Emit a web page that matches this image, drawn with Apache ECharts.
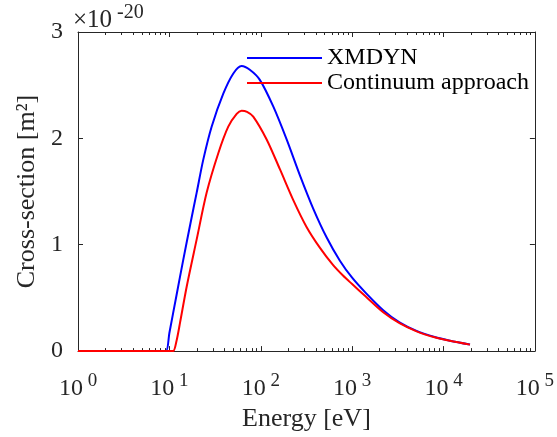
<!DOCTYPE html>
<html>
<head>
<meta charset="utf-8">
<script src="https://cdn.jsdelivr.net/npm/echarts@6/dist/echarts.min.js"></script>
<style>html,body{margin:0;padding:0;background:#fff}#c{width:557px;height:437px}</style>
</head>
<body>
<div id="c"></div>
<script>
// Energy in eV, cross-section in units of 1e-20 m^2
const xmdynEnergy = [1, 8.0, 9.2, 10.0, 12.0, 14.2, 17.0, 19.9, 23.5, 29.0, 38.9, 50.1, 61.7, 75.9, 97.7, 137, 192, 269, 375, 525, 735, 1000, 1400, 2188, 3300, 5070, 8000, 11750, 19500];
const xmdynValue  = [0, 0, 0, 0.17, 0.53, 0.86, 1.20, 1.49, 1.80, 2.11, 2.42, 2.61, 2.68, 2.645, 2.55, 2.30, 1.99, 1.65, 1.34, 1.07, 0.85, 0.69, 0.55, 0.385, 0.27, 0.19, 0.132, 0.098, 0.062];
const contEnergy  = [1, 10.0, 11.0, 12.0, 13.1, 15.5, 19.9, 25.6, 34.3, 44.1, 54.5, 61.7, 70.8, 82.8, 116, 162, 227, 316, 445, 617, 794, 1000, 1400, 2188, 3300, 5070, 8000, 11750, 19500];
const contValue   = [0, 0, 0, 0.10, 0.27, 0.61, 1.05, 1.49, 1.86, 2.11, 2.23, 2.26, 2.25, 2.205, 1.99, 1.71, 1.42, 1.17, 0.97, 0.81, 0.71, 0.63, 0.515, 0.365, 0.262, 0.186, 0.13, 0.097, 0.061];
const seriesNames = ['XMDYN', 'Continuum approach'];
const xMajorTicks = [1, 10, 100, 1000, 10000, 100000];
const xTickExponents = ['0', '1', '2', '3', '4', '5'];
const xMinorTicks = [2,3,4,5,6,7,8,9, 20,30,40,50,60,70,80,90, 200,300,400,500,600,700,800,900,
  2000,3000,4000,5000,6000,7000,8000,9000, 20000,30000,40000,50000,60000,70000,80000,90000];
const yTicks = [0, 1, 2, 3];
const scaleExponent = '-20';

const FONT = 'Liberation Serif';
const AX = '#262626';
const pair = (xs, ys) => xs.map((x, i) => [x, ys[i]]);

function xAxisDef(pos, ticks, len, withLabels, withLine) {
  return {
    type: 'log', logBase: 10, min: 1, max: 100000, position: pos,
    axisLine: { show: withLine, lineStyle: { color: AX, width: 1 } },
    axisTick: { show: true, inside: true, length: len, customValues: ticks, lineStyle: { color: AX } },
    axisLabel: withLabels ? {
      show: true, customValues: xMajorTicks, margin: 20,
      formatter: v => '{b|10}{s| ' + xTickExponents[xMajorTicks.indexOf(v)] + '}',
      rich: {
        b: { fontFamily: FONT, fontSize: 24, color: '#262626' },
        s: { fontFamily: FONT, fontSize: 19, color: '#262626', padding: [0, 0, 17, 0] }
      }
    } : { show: false },
    splitLine: { show: false }
  };
}

const chart = echarts.init(document.getElementById('c'), null, { renderer: 'canvas' });
chart.setOption({
  animation: false,
  backgroundColor: '#fff',
  title: {
    text: '{a|×10}{b| ' + scaleExponent + '}',
    left: 68, top: -2,
    textStyle: { fontWeight: 'normal', rich: {
      a: { fontFamily: FONT, fontSize: 25, fontWeight: 'normal', color: '#262626' },
      b: { fontFamily: FONT, fontSize: 20, fontWeight: 'normal', color: '#262626', padding: [0, 0, 15, 0] }
    } }
  },
  grid: { left: 78, right: 22, top: 32, bottom: 85, containLabel: false },
  legend: {
    data: seriesNames, orient: 'vertical', left: 247, top: 46, padding: 0,
    icon: 'rect', itemWidth: 75, itemHeight: 2, itemGap: 1,
    textStyle: { fontFamily: FONT, fontSize: 24, color: '#000', lineHeight: 24 }
  },
  xAxis: [
    Object.assign(xAxisDef('bottom', xMajorTicks, 5, true, true), {
      name: 'Energy [eV]', nameLocation: 'middle', nameGap: 49,
      nameTextStyle: { fontFamily: FONT, fontSize: 26, color: '#262626' }
    }),
    xAxisDef('bottom', xMinorTicks, 3, false, false),
    xAxisDef('top', xMajorTicks, 5, false, true),
    xAxisDef('top', xMinorTicks, 3, false, false)
  ],
  yAxis: [
    {
      type: 'value', min: 0, max: 3, interval: 1, position: 'left',
      axisLine: { show: true, lineStyle: { color: AX } },
      axisTick: { show: true, inside: true, length: 5, lineStyle: { color: AX } },
      axisLabel: { margin: 15, fontFamily: FONT, fontSize: 24, color: '#262626',
        formatter: v => String(yTicks[yTicks.indexOf(v)]) },
      splitLine: { show: false },
      name: 'Cross-section [m²]', nameLocation: 'middle', nameGap: 38,
      nameTextStyle: { fontFamily: FONT, fontSize: 26, color: '#262626' }
    },
    {
      type: 'value', min: 0, max: 3, interval: 1, position: 'right',
      axisLine: { show: true, lineStyle: { color: AX } },
      axisTick: { show: true, inside: true, length: 5, lineStyle: { color: AX } },
      axisLabel: { show: false }, splitLine: { show: false }
    }
  ],
  series: [
    { name: seriesNames[0], type: 'line', data: pair(xmdynEnergy, xmdynValue), smooth: 0.3,
      symbol: 'none', lineStyle: { color: '#0000ff', width: 2 }, itemStyle: { color: '#0000ff' }, z: 3 },
    { name: seriesNames[1], type: 'line', data: pair(contEnergy, contValue), smooth: 0.3,
      symbol: 'none', lineStyle: { color: '#ff0000', width: 2 }, itemStyle: { color: '#ff0000' }, z: 4 }
  ]
});
</script>
</body>
</html>
